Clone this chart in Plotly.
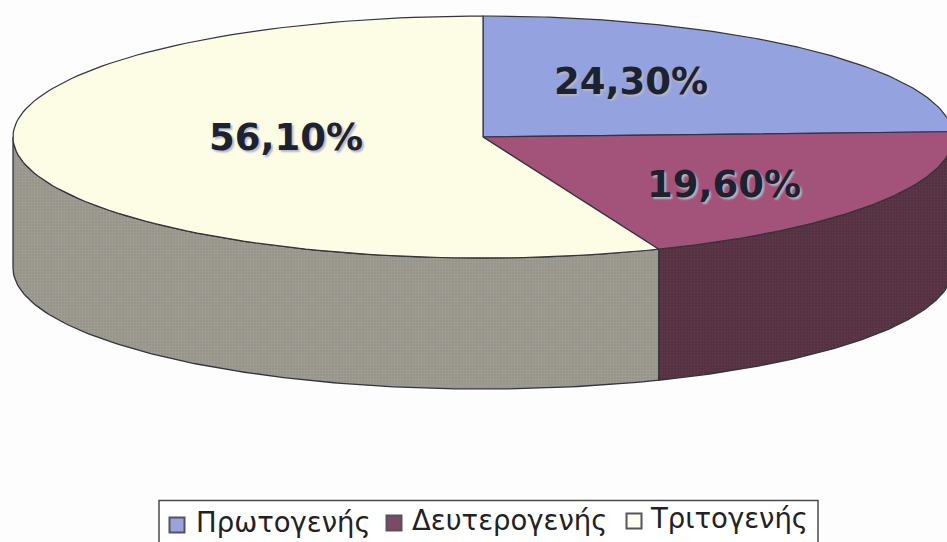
import numpy as np
import plotly.graph_objects as go

categories = ["Πρωτογενής", "Δευτερογενής", "Τριτογενής"]
shares = [24.3, 19.6, 56.1]
value_labels = ["24,30%", "19,60%", "56,10%"]

top_colors = ["#94a3e0", "#a3527a", "#fdfde6"]
side_colors = ["#4d5680", "#53303f", "#96958a"]
side_patterns = ["#3f4670", "#6b4658", "#b3a9a0"]
legend_colors = ["#9aa3dd", "#7d4a66", "#fdfdf0"]
label_anchor = [(631, 85), (724, 188), (286, 141)]
legend_marker_x = [177, 394, 634]
legend_text_x = [196, 412, 651]
legend_y = [525, 523, 521]

W, H = 947, 542
CX, CY, RX, RY, DEPTH = 483, 137, 470, 121, 131
EDGE = "#33343c"


def rim(t0, t1, dy=0.0):
    t = np.radians(np.linspace(t0, t1, 120))
    return CX + RX * np.sin(t), CY - RY * np.cos(t) + dy


fig = go.Figure()
bounds = np.concatenate([[0], np.cumsum(shares) / sum(shares) * 360])

# side walls: only the front half (90..270 deg clockwise from the top) is visible
for i in range(len(shares)):
    a, b = max(bounds[i], 90), min(bounds[i + 1], 270)
    if a >= b:
        continue
    xt, yt = rim(a, b)
    xb, yb = rim(b, a, DEPTH)
    fig.add_trace(go.Scatter(
        x=np.r_[xt, xb, xt[0]], y=np.r_[yt, yb, yt[0]], mode="lines", fill="toself",
        fillcolor=side_colors[i],
        fillpattern=dict(shape=".", size=3, solidity=0.35, bgcolor=side_colors[i], fgcolor=side_patterns[i]),
        line=dict(color=EDGE, width=1.3), hoverinfo="skip", showlegend=False))

# top face
for i in range(len(shares)):
    x, y = rim(bounds[i], bounds[i + 1])
    fig.add_trace(go.Scatter(
        x=np.r_[CX, x, CX], y=np.r_[CY, y, CY], mode="lines", fill="toself",
        fillcolor=top_colors[i], line=dict(color=EDGE, width=1.2),
        hoverinfo="skip", showlegend=False))

# value labels
for i, txt in enumerate(value_labels):
    fig.add_trace(go.Scatter(
        x=[label_anchor[i][0]], y=[label_anchor[i][1]], mode="text", text=[txt],
        textposition="middle center",
        textfont=dict(family="DejaVu Sans", size=37, color="#1c2230", weight="bold",
                      shadow="2px 2px 2px #b9b4c0"),
        hoverinfo="skip", showlegend=False))

# legend box runs off the bottom of the picture, as in the reference
fig.add_shape(type="rect", x0=159, x1=818, y0=500.5, y1=H + 6, fillcolor="#ffffff",
              line=dict(color="#4a4a4a", width=1.5), layer="below")
for i, name in enumerate(categories):
    fig.add_trace(go.Scatter(
        x=[legend_marker_x[i]], y=[legend_y[i]], mode="markers", name=name,
        marker=dict(symbol="square", size=15, color=legend_colors[i], line=dict(color="#555", width=2)),
        hoverinfo="skip", showlegend=False))
    fig.add_trace(go.Scatter(
        x=[legend_text_x[i]], y=[legend_y[i]], mode="text", text=[name], textposition="middle right",
        textfont=dict(family="DejaVu Sans", size=27.5, color="#222"),
        hoverinfo="skip", showlegend=False))

fig.update_layout(
    width=W, height=H, margin=dict(l=0, r=0, t=0, b=0),
    paper_bgcolor="#fdfdfd", plot_bgcolor="#fdfdfd",
    xaxis=dict(range=[0, W], visible=False, fixedrange=True),
    yaxis=dict(range=[H, 0], visible=False, fixedrange=True),
    showlegend=False,
)
fig.write_html("out.html", config={"displayModeBar": False},
               post_script="document.body.style.margin='0';document.body.style.overflow='hidden';")
